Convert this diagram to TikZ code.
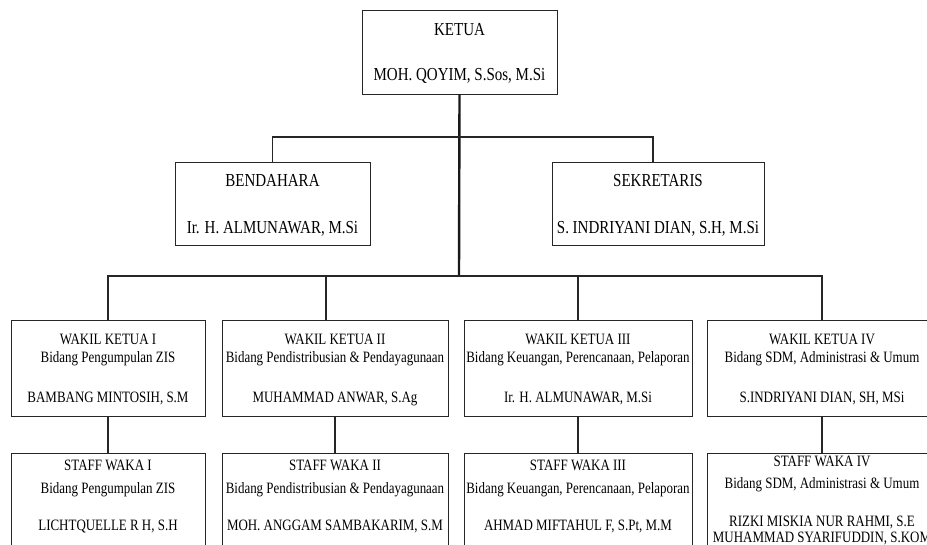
\documentclass[tikz,border=0pt]{standalone}
\usepackage{fontspec}
\setmainfont{Liberation Serif}[FakeStretch=0.82]

\tikzset{
  box/.style={draw=black!85, line width=0.9pt, inner sep=0pt, align=center, text depth=0pt},
  upbox/.style={box, minimum height=84pt, font=\fontsize{18.3}{22}\selectfont},
  wkbox/.style={box, minimum height=96pt, font=\fontsize{15.8}{18}\selectfont},
  stbox/.style={draw=black!85, line width=0.9pt, minimum height=130pt, anchor=north, inner sep=0pt},
  sttext/.style={anchor=north, inner sep=0pt, align=center, font=\fontsize{15.8}{18}\selectfont},
  conn/.style={line width=1.8pt, draw=black!85},
  trunk/.style={line width=2.4pt, draw=black!90}
}

\begin{document}
\begin{tikzpicture}[x=1pt,y=-1pt]
            \fill[white] (0,0) rectangle (927,544);
            \useasboundingbox (0,0) rectangle (927,544);

            % pimpinan
            \node[upbox, minimum width=195pt] (KETUA) at (459.5,52) {KETUA\\[23pt]MOH. QOYIM, S.Sos, M.Si};
            \node[upbox, minimum width=195pt, minimum height=83pt] (BEND) at (272.5,203.5) {BENDAHARA\\[25pt]Ir. H. ALMUNAWAR, M.Si};
            \node[upbox, minimum width=212pt, minimum height=83pt] (SEKR) at (658,203.5) {SEKRETARIS\\[25pt]S. INDRIYANI DIAN, S.H, M.Si};

            % wakil ketua
            \node[wkbox, minimum width=194pt] (WK1) at (108,368) {WAKIL KETUA I\\Bidang Pengumpulan ZIS\\[22pt]BAMBANG MINTOSIH, S.M};
            \node[wkbox, minimum width=226pt] (WK2) at (335,368) {WAKIL KETUA II\\Bidang Pendistribusian \& Pendayagunaan\\[22pt]MUHAMMAD ANWAR, S.Ag};
            \node[wkbox, minimum width=228pt] (WK3) at (578,368) {WAKIL KETUA III\\Bidang Keuangan, Perencanaan, Pelaporan\\[22pt]Ir. H. ALMUNAWAR, M.Si};
            \node[wkbox, minimum width=230pt] (WK4) at (822,368) {WAKIL KETUA IV\\Bidang SDM, Administrasi \& Umum\\[22pt]S.INDRIYANI DIAN, SH, MSi};

            % staff waka
            \node[stbox, minimum width=194pt] (SW1) at (108,453) {};
            \node[stbox, minimum width=226pt] (SW2) at (335,453) {};
            \node[stbox, minimum width=228pt] (SW3) at (578,453) {};
            \node[stbox, minimum width=230pt] (SW4) at (822,453) {};
            \node[sttext] (SW1t) at ([yshift=-7pt]SW1.north) {STAFF WAKA I\\[5pt]Bidang Pengumpulan ZIS\\[19pt]LICHTQUELLE R H, S.H};
            \node[sttext] (SW2t) at ([yshift=-7pt]SW2.north) {STAFF WAKA II\\[5pt]Bidang Pendistribusian \& Pendayagunaan\\[19pt]MOH. ANGGAM SAMBAKARIM, S.M};
            \node[sttext] (SW3t) at ([yshift=-7pt]SW3.north) {STAFF WAKA III\\[5pt]Bidang Keuangan, Perencanaan, Pelaporan\\[19pt]AHMAD MIFTAHUL F, S.Pt, M.M};
            \node[sttext] (SW4t) at ([yshift=-3pt]SW4.north) {STAFF WAKA IV\\[4pt]Bidang SDM, Administrasi \& Umum\\[20pt]RIZKI MISKIA NUR RAHMI, S.E\\[-2pt]MUHAMMAD SYARIFUDDIN, S.KOM};

            \coordinate (mid) at (459,137);
            \coordinate (bus) at (459,276);

            \draw[trunk] (KETUA.south) -- (bus);
            \draw[conn] (BEND.north) |- (mid) -| ([xshift=-5pt]SEKR.north);
            \draw[conn] (WK1.north) |- (bus) -| (WK4.north);
            \draw[conn] ([xshift=-9pt]WK2.north) |- (bus);
            \draw[conn] (WK3.north) |- (bus);
            \draw[conn] (WK1.south) -- (SW1.north);
            \draw[conn] (WK2.south) -- (SW2.north);
            \draw[conn] (WK3.south) -- (SW3.north);
            \draw[conn] (WK4.south) -- (SW4.north);
        \end{tikzpicture}
\end{document}
